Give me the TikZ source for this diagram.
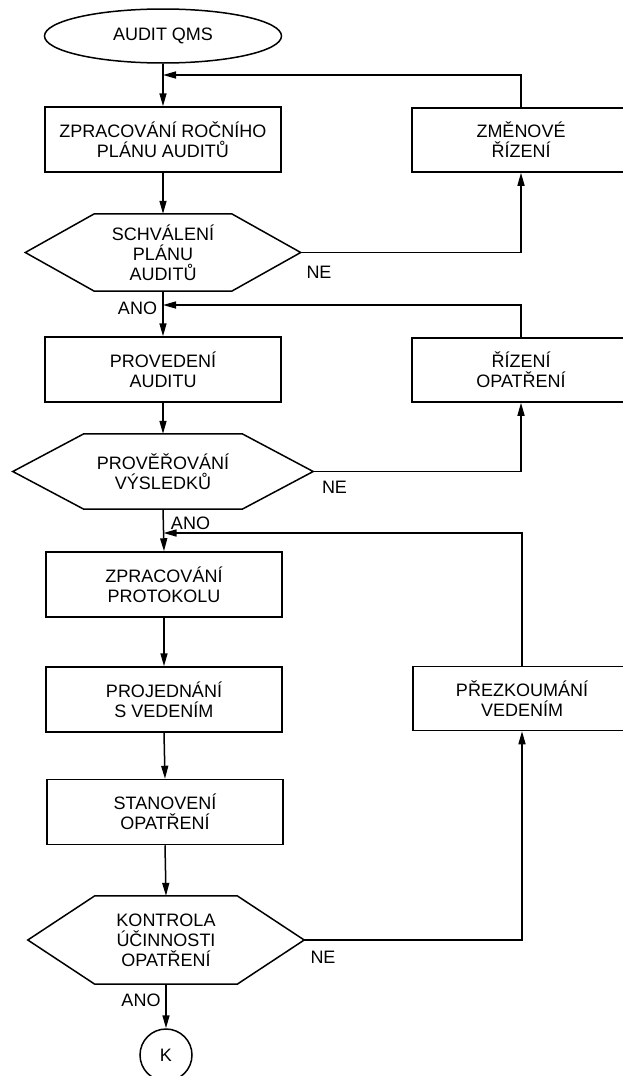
\documentclass[tikz,border=0pt]{standalone}
\usepackage{fontspec}
\setmainfont{Liberation Sans}
\usetikzlibrary{arrows.meta,shapes.geometric}
\newcommand\lbl{\fontsize{18}{20}\selectfont}
% outline of a decision hexagon drawn around a named node; #2 = horizontal inset of the slanted sides
\newcommand\hexoutline[2]{%
  \draw[line] (#1.west) -- ([xshift=#2]#1.north west) -- ([xshift=-#2]#1.north east)
    -- (#1.east) -- ([xshift=-#2]#1.south east) -- ([xshift=#2]#1.south west) -- cycle;}
\begin{document}
\begin{tikzpicture}[x=1pt,y=-1pt,
  line/.style={line width=1.5pt,line join=miter},
  flow/.style={line width=1.5pt,-{Triangle[length=13pt,width=7pt]}},
  box/.style={draw,line width=1.5pt,rectangle,minimum width=236pt,minimum height=65pt,
    inner sep=0pt,align=center,font=\lbl},
  rbox/.style={box,minimum width=218pt,minimum height=64pt},
  term/.style={draw,line width=1.5pt,ellipse,minimum width=237pt,minimum height=54pt,
    inner sep=0pt,font=\lbl},
  dec/.style={rectangle,inner sep=0pt,align=center,font=\lbl},
  endpt/.style={draw,line width=1.5pt,circle,minimum size=52pt,inner sep=0pt,font=\lbl},
  tag/.style={inner sep=0pt,font=\lbl}]
\useasboundingbox (0,0) rectangle (622,1076);

% main column
\node[term] (start) at (163,36) {AUDIT QMS};
\node[box] (b1) at (163,139.5) {ZPRACOVÁNÍ ROČNÍHO\\PLÁNU AUDITŮ};
\node[dec,minimum width=275pt,minimum height=77pt] (h1) at (163,252.5) {SCHVÁLENÍ\\PLÁNU\\AUDITŮ};
\hexoutline{h1}{69pt}
\node[box] (b2) at (163,369.5) {PROVEDENÍ\\AUDITU};
\node[dec,minimum width=300pt,minimum height=75pt] (h2) at (163,471.5) {PROVĚŘOVÁNÍ\\VÝSLEDKŮ};
\hexoutline{h2}{71pt}
\node[box] (b3) at (164,584.5) {ZPRACOVÁNÍ\\PROTOKOLU};
\node[box] (b4) at (164,699.5) {PROJEDNÁNÍ\\S VEDENÍM};
\node[box] (b5) at (165,812) {STANOVENÍ\\OPATŘENÍ};
\node[dec,minimum width=276pt,minimum height=88pt] (h3) at (166,940) {KONTROLA\\ÚČINNOSTI\\OPATŘENÍ};
\hexoutline{h3}{67pt}
\node[endpt] (stop) at (166,1055) {K};

% side column
\node[rbox] (r1) at (521,140) {ZMĚNOVÉ\\ŘÍZENÍ};
\node[rbox] (r2) at (521,370) {ŘÍZENÍ\\OPATŘENÍ};
\node[rbox] (r3) at (522,698.5) {PŘEZKOUMÁNÍ\\VEDENÍM};

% junctions where the loops rejoin the main column
\coordinate (j1) at (163,75);
\coordinate (j2) at (163,305);
\coordinate (j3) at (163.5,533);

% main flow
\draw[flow] (start) -- (b1);
\draw[flow] (b1) -- (h1);
\draw[flow] (h1) -- (b2);
\draw[flow] (b2) -- (h2);
\draw[flow] (h2.south) -- (b3.north);
\draw[flow] (b3) -- (b4);
\draw[flow] (b4.south) -- (b5.north);
\draw[flow] (b5.south) -- (h3.north);
\draw[flow] (h3) -- (stop);

% NE branches
\draw[flow] (h1.east) -| (r1.south);
\draw[flow] (h2.east) -| (r2.south);
\draw[flow] (h3.east) -| (r3.south);

% loops back into the main column
\draw[flow] (r1.north) |- (j1);
\draw[flow] (r2.north) |- (j2);
\draw[flow] (r3.north) |- (j3);

% branch labels
\node[tag] (ne1) at (319,272) {NE};
\node[tag] (ano1) at (137.5,308) {ANO};
\node[tag] (ne2) at (334.5,487) {NE};
\node[tag] (ano2) at (190.5,523) {ANO};
\node[tag] (ne3) at (323,957) {NE};
\node[tag] (ano3) at (141,1000) {ANO};
\end{tikzpicture}
\end{document}
